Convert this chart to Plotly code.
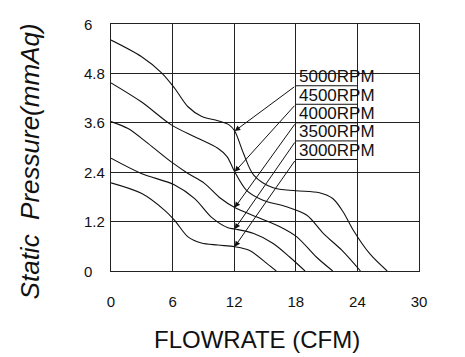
import plotly.graph_objects as go

# ---- data ----
rpm_labels = ["5000RPM", "4500RPM", "4000RPM", "3500RPM", "3000RPM"]

x_5000 = [0, 2.95, 4.9, 6.2, 7.5, 8.8, 10.4, 11.5, 12.05, 12.9, 13.9, 15.8, 18.0, 20.3, 21.6, 22.6, 23.6, 25.2, 26.9]
y_5000 = [5.61, 5.21, 4.82, 4.44, 3.99, 3.76, 3.65, 3.55, 3.40, 2.86, 2.33, 2.02, 1.95, 1.9, 1.76, 1.44, 0.99, 0.42, 0]

x_4500 = [0, 2.95, 5.87, 8.15, 10.4, 11.3, 12.05, 13.2, 14.8, 17.1, 19.05, 20.7, 22.5, 24.3]
y_4500 = [4.57, 4.11, 3.55, 3.26, 2.98, 2.78, 2.41, 1.96, 1.72, 1.56, 1.36, 0.91, 0.5, 0]

x_4000 = [0, 1.66, 3.6, 5.87, 7.5, 9.1, 10.7, 12.05, 14.2, 16.5, 18.1, 20.0, 21.6]
y_4000 = [3.63, 3.46, 3.1, 2.65, 2.37, 2.13, 1.76, 1.54, 1.31, 1.07, 0.83, 0.34, 0]

x_3500 = [0, 2.95, 6.2, 8.15, 9.77, 11.4, 12.05, 13.9, 15.8, 17.4, 18.9]
y_3500 = [2.74, 2.37, 2.09, 1.76, 1.31, 1.05, 1.02, 0.91, 0.67, 0.34, 0]

x_3000 = [0, 3.0, 5.2, 6.2, 7.5, 8.8, 10.4, 12.05, 13.5, 15.2, 16.1]
y_3000 = [2.14, 1.88, 1.48, 1.23, 0.83, 0.68, 0.63, 0.59, 0.5, 0.18, 0]

x_ticks = [0, 6, 12, 18, 24, 30]
y_ticks = [0, 1.2, 2.4, 3.6, 4.8, 6]
y_tick_text = ["0", "1.2", "2.4", "3.6", "4.8", "6"]

# where the arrows point on each curve (flowrate, pressure)
arrow_x = [12.05, 12.05, 12.05, 12.05, 12.05]
arrow_y = [3.40, 2.41, 1.54, 1.02, 0.59]

# label table layout (styling / positions)
label_x0, label_x1 = 18, 24
label_rule_y = [4.50, 4.05, 3.60, 3.16, 2.71]

FONT = "Arial, 'Liberation Sans', sans-serif"

fig = go.Figure()
series = [(x_5000, y_5000), (x_4500, y_4500), (x_4000, y_4000), (x_3500, y_3500), (x_3000, y_3000)]
for (xs, ys), name in zip(series, rpm_labels):
    fig.add_trace(go.Scatter(x=xs, y=ys, mode="lines", name=name,
                             line=dict(color="#111111", width=1.1, shape="spline", smoothing=0.9),
                             showlegend=False, hoverinfo="skip"))

annotations = []
shapes = []
for lab, ry, axv, ayv in zip(rpm_labels, label_rule_y, arrow_x, arrow_y):
    shapes.append(dict(type="line", xref="x", yref="y", x0=label_x0, x1=label_x1, y0=ry, y1=ry,
                       line=dict(color="#111111", width=1)))
    annotations.append(dict(x=label_x0, y=ry + 0.22, xref="x", yref="y", text=lab, showarrow=False,
                            xanchor="left", yanchor="middle", xshift=1,
                            font=dict(family=FONT, size=17, color="#111111")))
    annotations.append(dict(x=axv, y=ayv, xref="x", yref="y", ax=label_x0, ay=ry, axref="x", ayref="y",
                            text="", showarrow=True, arrowhead=2, arrowsize=1.1, arrowwidth=1,
                            arrowcolor="#111111", standoff=0))

for v, t in zip(y_ticks, y_tick_text):
    annotations.append(dict(x=-0.094, y=v, xref="paper", yref="y", text=t, showarrow=False,
                            xanchor="left", yanchor="middle",
                            font=dict(family=FONT, size=15, color="#111111")))

annotations.append(dict(x=0.473, y=-0.279, xref="paper", yref="paper", text="FLOWRATE (CFM)",
                        showarrow=False, xanchor="center", yanchor="middle",
                        font=dict(family=FONT, size=24, color="#111111")))
annotations.append(dict(x=-0.262, y=0.445, xref="paper", yref="paper", text="Static\u00a0\u00a0Pressure(mmAq)",
                        showarrow=False, xanchor="center", yanchor="middle", textangle=-90,
                        font=dict(family=FONT, size=26, color="#111111", style="italic")))

fig.update_layout(
    width=465, height=357,
    margin=dict(l=111, r=46, t=24, b=86),
    paper_bgcolor="white", plot_bgcolor="white",
    showlegend=False,
    annotations=annotations, shapes=shapes,
    xaxis=dict(range=[0, 30], tickvals=x_ticks, ticktext=[str(v) for v in x_ticks],
               showgrid=True, gridcolor="#222222", gridwidth=1, zeroline=False,
               showline=True, linecolor="#222222", linewidth=1, mirror=True, ticks="",
               ticklabelstandoff=17, tickfont=dict(family=FONT, size=15, color="#111111")),
    yaxis=dict(range=[0, 6], tickvals=y_ticks, showticklabels=False,
               showgrid=True, gridcolor="#222222", gridwidth=1, zeroline=False,
               showline=True, linecolor="#222222", linewidth=1, mirror=True, ticks=""),
)

fig.write_html("out.html")
